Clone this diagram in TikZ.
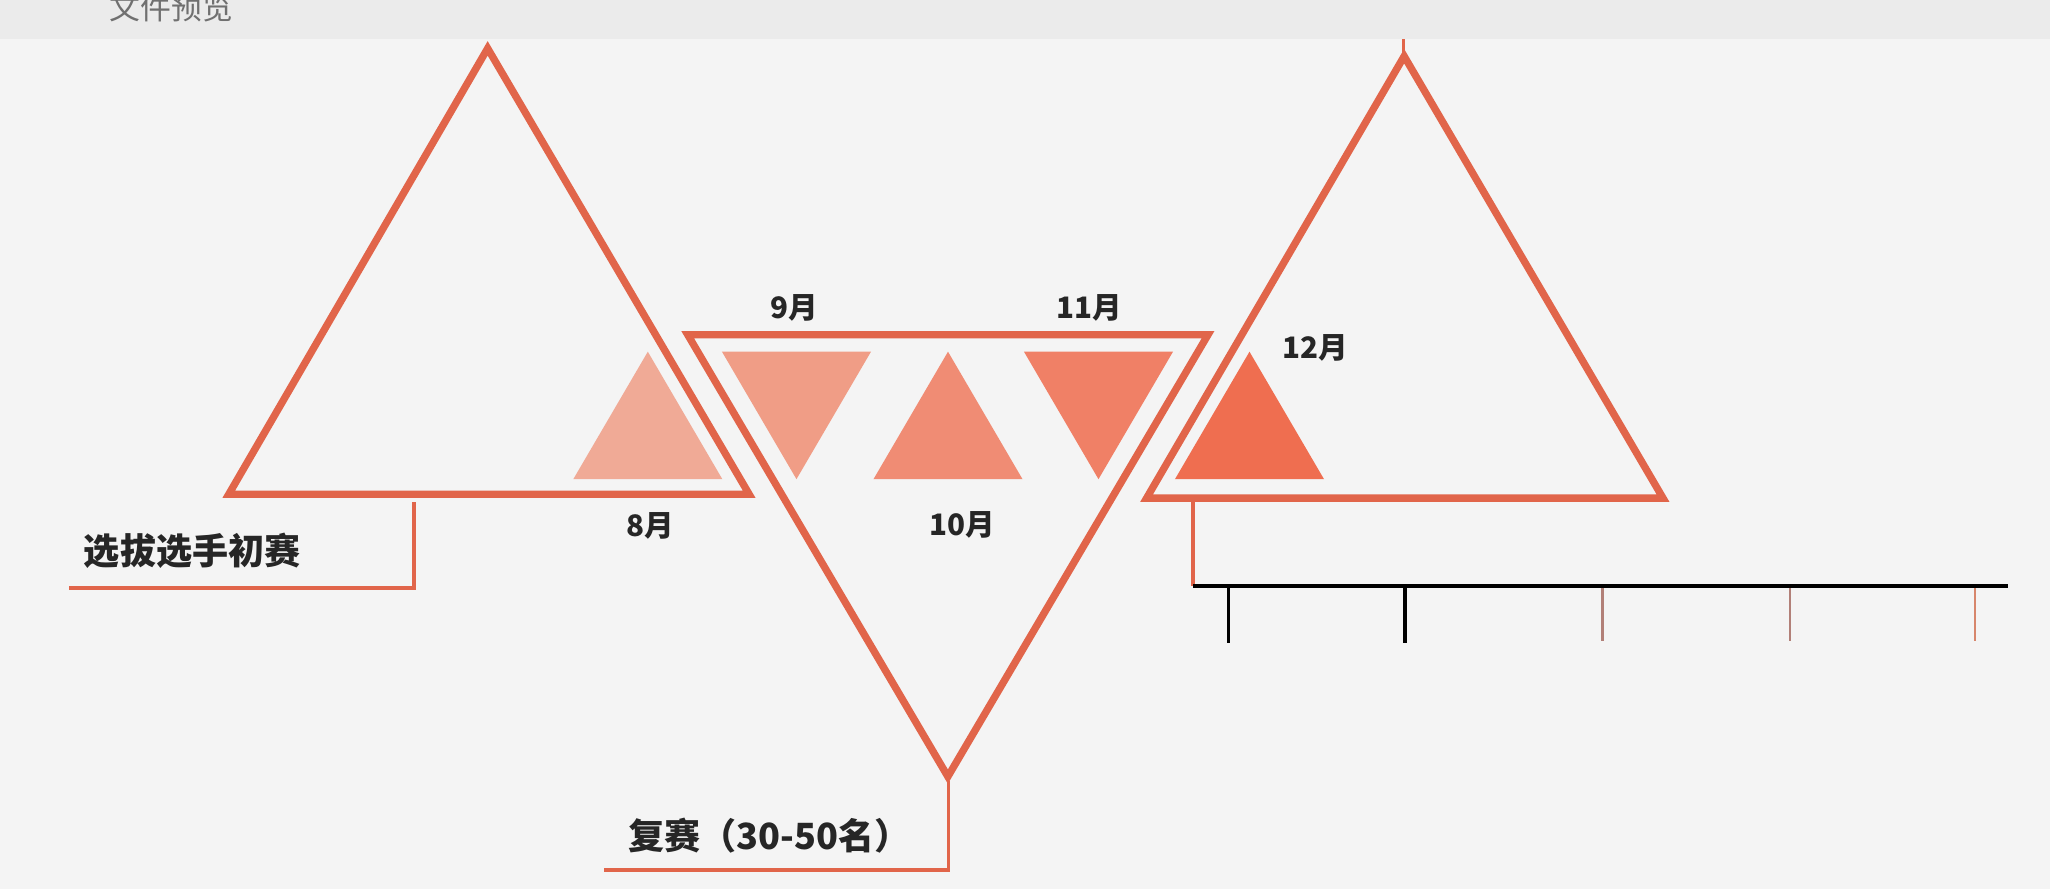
\documentclass[tikz,border=0pt]{standalone}
\usepackage{fontspec}
\setmainfont{Noto Sans CJK SC}
\definecolor{body}{HTML}{F4F4F4}
\definecolor{bar}{HTML}{EBEBEB}
\definecolor{bartext}{HTML}{707070}
\definecolor{edge}{HTML}{E1654A}
\definecolor{ink}{HTML}{262626}
\definecolor{t8}{HTML}{F0AA96}
\definecolor{t9}{HTML}{F09D86}
\definecolor{t10}{HTML}{F08C74}
\definecolor{t11}{HTML}{F08066}
\definecolor{t12}{HTML}{EF6E50}
\definecolor{tickpale}{HTML}{B28078}
\definecolor{tickwarm}{HTML}{D7866C}
\begin{document}
\begin{tikzpicture}[x=0.5pt,y=-0.5pt,
  frame/.style={draw=edge,line width=2.8pt,line join=miter},
  lead/.style={draw=edge,line width=1.5pt},
  month/.style={font=\fontsize{11.3}{12}\selectfont\bfseries,text=ink,inner sep=0pt},
  stage/.style={font=\fontsize{13.8}{15}\selectfont\bfseries,text=ink,inner sep=0pt}]
\useasboundingbox (0,0) rectangle (1568,680);
\fill[body] (0,0) rectangle (1568,680);
\fill[bar] (0,0) rectangle (1568,30);
\begin{scope}
\clip (0,0) rectangle (1568,30);
\node[anchor=south,inner sep=0pt,text=bartext,font=\fontsize{11.8}{12}\selectfont] (title) at (131,17) {文件预览};
\end{scope}
% big triangles
\draw[frame] (175,378) -- (373,37) -- (573,378) -- cycle;
\draw[frame] (526,256) -- (924,256) -- (725,594) -- cycle;
\draw[frame] (877,381) -- (1074,43) -- (1272,381) -- cycle;
\draw[edge,line width=1.1pt] (1073.5,30) -- (1073.5,40);
% small triangles
\foreach \cx/\yb/\ya/\shade in {495.5/366.5/269/t8, 609.2/269/366.5/t9, 725.1/366.5/269/t10, 840.2/269/366.5/t11, 955.7/366.5/269/t12}
  \fill[\shade] (\cx-57,\yb) -- (\cx+57,\yb) -- (\cx,\ya) -- cycle;
% months
\node[month] (aug) at (497.5,402) {8月};
\node[month] (sep) at (607.5,235.5) {9月};
\node[month] (oct) at (735.7,401.6) {10月};
\node[month] (nov) at (833.5,235.5) {11月};
\node[month] (dec) at (1005.8,266) {12月};
% stages
\node[stage] (prelim) at (147,421.5) {选拔选手初赛};
\node[stage] (semi) at (588.5,639.5) {复赛（30-50名）};
\coordinate (a1) at (317,384);
\coordinate (a2) at (317,450);
\coordinate (a3) at (53,450);
\draw[lead] (a1) -- (a2) -- (a3);
\coordinate (b1) at (725.5,597);
\coordinate (b2) at (725.5,665.5);
\coordinate (b3) at (462,665.5);
\draw[lead] (b1) -- (b2) -- (b3);
\coordinate (c1) at (912.5,384);
\coordinate (c2) at (912.5,448.3);
\coordinate (c3) at (1536,448.3);
\draw[lead] (c1) -- (c2);
\draw[black,line width=1.4pt] (c2) -- (c3);
% ticks
\foreach \tx in {939.8,1074.6}
  \draw[black,line width=1.3pt] (\tx,449) -- (\tx,492);
\foreach \tx/\tc in {1225.7/tickpale,1369.3/tickpale,1510.8/tickwarm}
  \draw[\tc,line width=0.8pt] (\tx,450) -- (\tx,490);
\end{tikzpicture}
\end{document}
